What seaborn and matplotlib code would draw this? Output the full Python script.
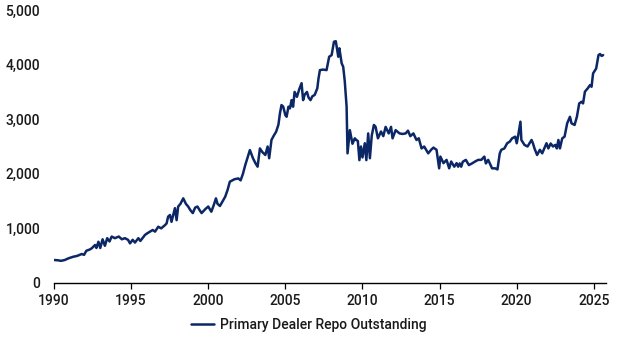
import matplotlib
matplotlib.use("Agg")
import matplotlib.pyplot as plt
import seaborn as sns
import pandas as pd

years = [
    1990.00, 1990.25, 1990.45, 1990.70, 1990.93, 1991.25, 1991.50, 1991.80, 1991.95, 1992.10,
    1992.30, 1992.45, 1992.66, 1992.75, 1992.88, 1993.00, 1993.15, 1993.30, 1993.45, 1993.60,
    1993.74, 1993.95, 1994.20, 1994.40, 1994.60, 1994.80, 1994.93, 1995.10, 1995.25, 1995.47,
    1995.60, 1995.90, 1996.05, 1996.22, 1996.40, 1996.55, 1996.76, 1996.95, 1997.20, 1997.30,
    1997.40, 1997.52, 1997.62, 1997.84, 1997.95, 1998.05, 1998.20, 1998.38, 1998.55, 1998.70,
    1998.85, 1999.00, 1999.15, 1999.30, 1999.45, 1999.57, 1999.80, 2000.00, 2000.20, 2000.35,
    2000.50, 2000.60, 2000.76, 2000.90, 2001.10, 2001.25, 2001.40, 2001.70, 2001.95, 2002.10,
    2002.25, 2002.40, 2002.55, 2002.70, 2002.90, 2003.05, 2003.20, 2003.35, 2003.50, 2003.70,
    2003.85, 2003.95, 2004.10, 2004.25, 2004.40, 2004.55, 2004.65, 2004.75, 2004.86, 2005.00,
    2005.08, 2005.20, 2005.30, 2005.40, 2005.50, 2005.60, 2005.75, 2005.90, 2006.05, 2006.15,
    2006.25, 2006.40, 2006.50, 2006.63, 2006.75, 2006.90, 2007.07, 2007.15, 2007.24, 2007.45,
    2007.67, 2007.84, 2008.00, 2008.15, 2008.27, 2008.43, 2008.50, 2008.65, 2008.75, 2008.85,
    2008.97, 2009.03, 2009.18, 2009.35, 2009.50, 2009.60, 2009.70, 2009.80, 2009.90, 2010.00,
    2010.15, 2010.25, 2010.37, 2010.48, 2010.60, 2010.74, 2010.85, 2011.00, 2011.20, 2011.35,
    2011.50, 2011.70, 2011.85, 2011.95, 2012.15, 2012.40, 2012.60, 2012.80, 2012.95, 2013.10,
    2013.30, 2013.50, 2013.65, 2013.83, 2014.00, 2014.26, 2014.45, 2014.60, 2014.80, 2014.97,
    2015.05, 2015.25, 2015.45, 2015.62, 2015.75, 2015.95, 2016.10, 2016.20, 2016.30, 2016.40,
    2016.50, 2016.70, 2016.90, 2017.10, 2017.30, 2017.50, 2017.70, 2017.90, 2018.00, 2018.15,
    2018.40, 2018.60, 2018.75, 2018.90, 2019.00, 2019.20, 2019.38, 2019.55, 2019.70, 2019.90,
    2020.00, 2020.10, 2020.24, 2020.30, 2020.50, 2020.70, 2020.96, 2021.05, 2021.15, 2021.32,
    2021.50, 2021.65, 2021.93, 2022.05, 2022.20, 2022.35, 2022.50, 2022.60, 2022.70, 2022.80,
    2022.95, 2023.10, 2023.27, 2023.45, 2023.55, 2023.75, 2023.90, 2024.05, 2024.20, 2024.30,
    2024.42, 2024.60, 2024.75, 2024.85, 2024.95, 2025.15, 2025.30, 2025.40, 2025.50, 2025.60,
]

repo = [
    420, 415, 405, 420, 450, 480, 495, 530, 515, 590,
    610, 635, 695, 640, 755, 640, 800, 680, 820, 760,
    850, 820, 850, 800, 820, 790, 725, 790, 740, 820,
    770, 880, 910, 940, 970, 940, 1030, 1000, 1060, 1090,
    1215, 1245, 1120, 1370, 1150, 1400, 1450, 1550, 1450, 1400,
    1330, 1280, 1380, 1400, 1330, 1280, 1350, 1400, 1305, 1420,
    1550, 1450, 1410, 1480, 1580, 1700, 1855, 1900, 1915, 1880,
    2000, 2160, 2300, 2435, 2285, 2200, 2130, 2465, 2400, 2345,
    2500, 2285, 2620, 2700, 2770, 2900, 3110, 3260, 3230, 3075,
    3045, 3230, 3200, 3350, 3230, 3500, 3410, 3550, 3660, 3350,
    3450, 3500, 3400, 3350, 3420, 3445, 3565, 3750, 3900, 3910,
    3900, 4145, 4175, 4420, 4430, 4145, 4300, 4025, 3960, 3700,
    3230, 2375, 2800, 2550, 2650, 2620, 2600, 2250, 2500, 2300,
    2560, 2250, 2740, 2285, 2700, 2895, 2860, 2650, 2775, 2690,
    2860, 2740, 2860, 2650, 2800, 2740, 2730, 2740, 2790, 2690,
    2740, 2620, 2650, 2465, 2500, 2375, 2440, 2480, 2440, 2100,
    2315, 2195, 2255, 2100, 2225, 2130, 2195, 2130, 2190, 2130,
    2220, 2255, 2160, 2190, 2225, 2255, 2255, 2315, 2190, 2255,
    2100, 2100, 2080, 2375, 2440, 2465, 2560, 2590, 2650, 2680,
    2560, 2710, 2955, 2620, 2530, 2500, 2620, 2560, 2465, 2345,
    2440, 2375, 2560, 2465, 2555, 2500, 2530, 2465, 2620, 2465,
    2650, 2680, 2925, 3045, 2925, 2895, 3045, 3290, 3320, 3290,
    3505, 3565, 3625, 3595, 3840, 3930, 4175, 4195, 4160, 4175,
]

series_name = "Primary Dealer Repo Outstanding"
x_ticks = [1990, 1995, 2000, 2005, 2010, 2015, 2020, 2025]
y_ticks = [0, 1000, 2000, 3000, 4000, 5000]

df = pd.DataFrame({"year": years, "value": repo, "series": series_name})

sns.set_theme(style="white")
plt.rcParams["font.family"] = ["Roboto", "DejaVu Sans"]

text_color = "#1a1a1a"
line_color = "#0b2766"

fig = plt.figure(figsize=(6.17, 3.48), dpi=100)
ax = fig.add_axes([0.0875, 0.187, 0.895, 0.784])

sns.lineplot(data=df, x="year", y="value", hue="series", palette=[line_color],
             linewidth=1.8, ax=ax, legend=True)

ax.set_xlim(1990, 2025.8)
ax.set_ylim(0, 5000)
ax.set_xticks(x_ticks)
ax.set_xticklabels([str(t) for t in x_ticks])
ax.set_yticks(y_ticks)
ax.set_yticklabels([f"{t:,}" for t in y_ticks])
ax.set_xlabel("")
ax.set_ylabel("")

for s in ["left", "top", "right"]:
    ax.spines[s].set_visible(False)
ax.spines["bottom"].set_color("black")
ax.spines["bottom"].set_linewidth(1.0)

ax.tick_params(axis="x", direction="out", length=4, width=0.9, color="black",
               pad=4, labelsize=10, labelcolor=text_color, bottom=True)
ax.tick_params(axis="y", length=0, pad=10, labelsize=10, labelcolor=text_color)
for lab in ax.get_xticklabels() + ax.get_yticklabels():
    lab.set_fontweight("medium")

handles, labels = ax.get_legend_handles_labels()
ax.get_legend().remove()
leg = fig.legend(handles, labels, loc="lower center", bbox_to_anchor=(0.5, 0.01),
                 frameon=False, fontsize=10, handlelength=1.7, handletextpad=0.4)
for t in leg.get_texts():
    t.set_color(text_color)
    t.set_fontweight("medium")

fig.savefig("out.png", dpi=100)
